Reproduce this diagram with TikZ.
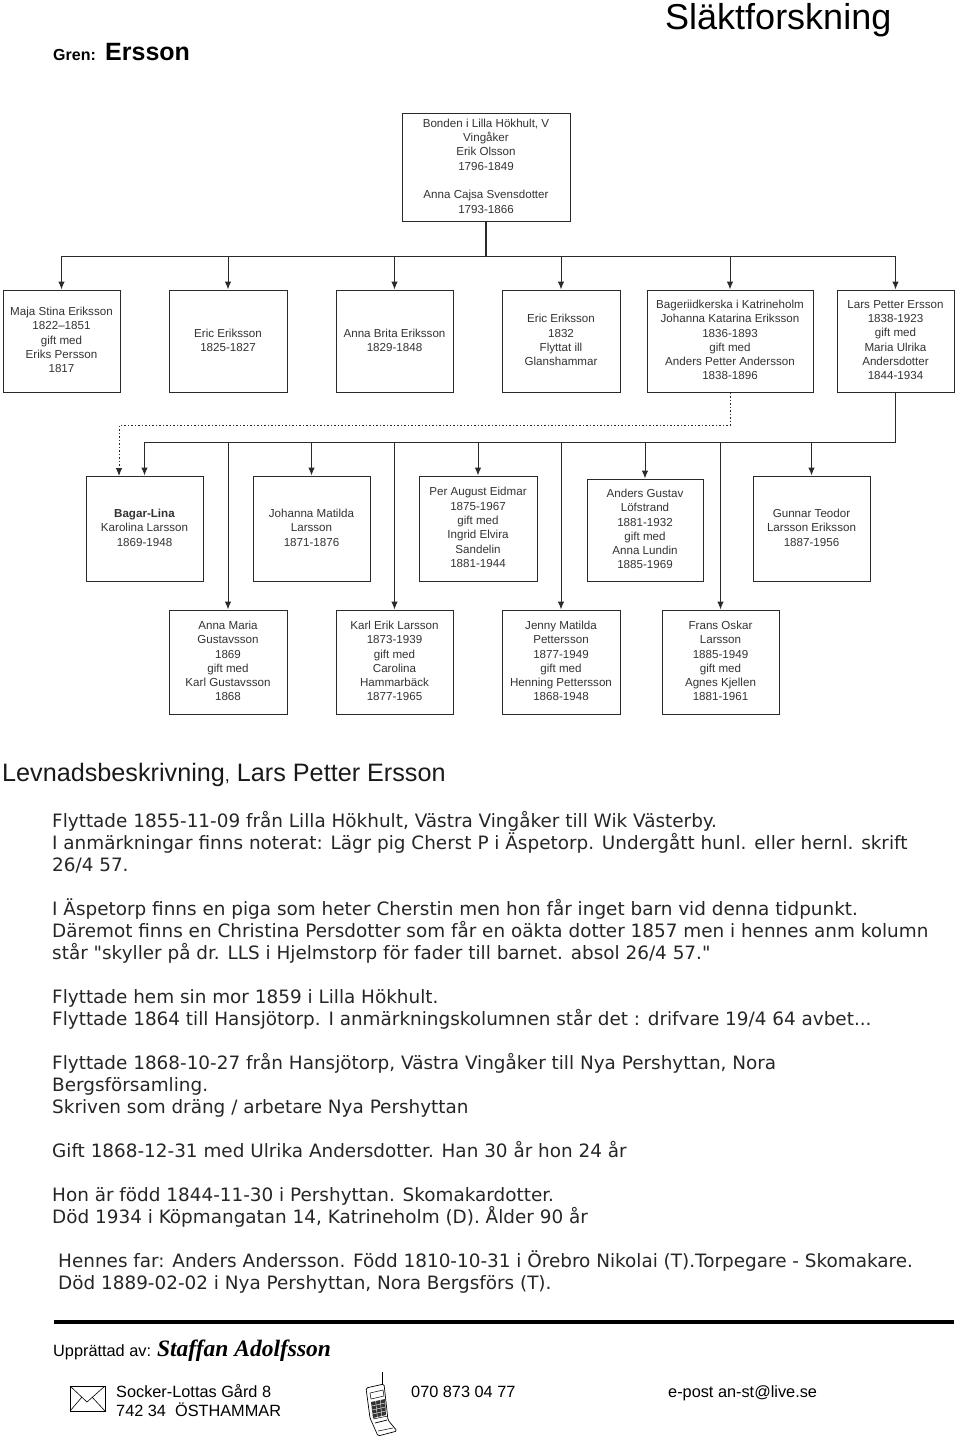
\documentclass[tikz,border=0pt]{standalone}
\usepackage{fontspec}
\usepackage{xcolor}
\setmainfont{Liberation Sans}
\newfontfamily\bodyfont{DejaVu Sans}
\newfontfamily\signfont{Liberation Serif}
\usetikzlibrary{arrows.meta,positioning,calc}
\definecolor{slink}{HTML}{2A2A2A}
\definecolor{stext}{HTML}{333333}
\tikzset{
  person/.style={rectangle,draw=slink,line width=1pt,fill=white,inner sep=0pt,
                 align=center,font=\fontsize{11.6}{14.3}\selectfont,text=stext},
  kin/.style={-{Latex[length=8pt,width=6.5pt]},line width=1pt,draw=slink},
  stem/.style={line width=1.2pt,draw=slink},
  stepkin/.style={-{Latex[length=8pt,width=6.5pt]},line width=0.9pt,draw=slink,dash pattern=on 1.5pt off 2pt},
  para/.style={anchor=north west,inner sep=0pt,align=left,
               execute at begin node={\rule{0pt}{19pt}},
               font=\bodyfont\fontsize{18.4}{22}\selectfont,text=black!85},
  foot/.style={anchor=base west,inner sep=0pt,font=\fontsize{16.3}{19}\selectfont},
}
% boxes are given as centre plus size, in pixels of the page
\newcommand{\personbox}[6]{%
  \node[person,minimum width=#4 pt,minimum height=#5 pt] (#1) at (#2,#3) {#6\\[-12.3pt]};}
\begin{document}
\begin{tikzpicture}[x=1pt,y=-1pt]
\useasboundingbox (0,0) rectangle (960,1437);
\node[anchor=base west,inner sep=0pt,font=\fontsize{36}{40}\selectfont] (title) at (665,30) {Släktforskning};
\node[anchor=base west,inner sep=0pt,font=\bfseries\fontsize{16}{19}\selectfont] (gren) at (53,61) {Gren:};
\node[anchor=base west,inner sep=0pt,font=\bfseries\fontsize{25}{28}\selectfont] (ersson) at (105,61) {Ersson};

% top of the tree
\personbox{root}{486}{167}{168}{108}{Bonden i Lilla Hökhult, V\\Vingåker\\Erik Olsson\\1796-1849\\[14.3pt]Anna Cajsa Svensdotter\\1793-1866}
% children
\personbox{maja}{61.5}{341}{117}{102}{Maja Stina Eriksson\\1822--1851\\gift med\\Eriks Persson\\1817}
\personbox{eric}{228}{341}{118}{102}{Eric Eriksson\\1825-1827}
\personbox{brita}{394.5}{341}{117}{102}{Anna Brita Eriksson\\1829-1848}
\personbox{glans}{561}{341}{118}{102}{Eric Eriksson\\1832\\Flyttat ill\\Glanshammar}
\personbox{johanna}{730}{341}{166}{102}{Bageriidkerska i Katrineholm\\Johanna Katarina Eriksson\\1836-1893\\gift med\\Anders Petter Andersson\\1838-1896}
\personbox{lars}{895.5}{341}{117}{102}{Lars Petter Ersson\\1838-1923\\gift med\\Maria Ulrika\\Andersdotter\\1844-1934}
% grandchildren, upper row
\personbox{lina}{144.5}{528.5}{117}{105}{\textbf{Bagar-Lina}\\Karolina Larsson\\1869-1948}
\personbox{matilda}{311.5}{528.5}{117}{105}{Johanna Matilda\\Larsson\\1871-1876}
\personbox{august}{478}{528.5}{118}{105}{Per August Eidmar\\1875-1967\\gift med\\Ingrid Elvira\\Sandelin\\1881-1944}
\personbox{gustav}{645}{530}{116}{102}{Anders Gustav\\Löfstrand\\1881-1932\\gift med\\Anna Lundin\\1885-1969}
\personbox{gunnar}{811.5}{528.5}{117}{105}{Gunnar Teodor\\Larsson Eriksson\\1887-1956}
% grandchildren, lower row
\personbox{maria}{228}{662}{118}{104}{Anna Maria\\Gustavsson\\1869\\gift med\\Karl Gustavsson\\1868}
\personbox{karl}{394.5}{662}{117}{104}{Karl Erik Larsson\\1873-1939\\gift med\\Carolina\\Hammarbäck\\1877-1965}
\personbox{jenny}{561}{662}{118}{104}{Jenny Matilda\\Pettersson\\1877-1949\\gift med\\Henning Pettersson\\1868-1948}
\personbox{frans}{720.5}{662}{117}{104}{Frans Oskar\\Larsson\\1885-1949\\gift med\\Agnes Kjellen\\1881-1961}

\coordinate (busa) at (root.south |- 0,256);
\coordinate (busb) at (lars.south |- 0,442);
\coordinate (dota) at (johanna.south |- 0,425);
\coordinate (dotb) at (119,425);
\coordinate (dotc) at (119,476);

\draw[stem] (root) -- (busa);
\foreach \kid in {maja,eric,brita,glans,johanna,lars}
  \draw[kin] (busa) -| (\kid.north);
\draw[stem] (lars) -- (busb);
\foreach \kid in {lina,maria,matilda,karl,august,jenny,gustav,frans,gunnar}
  \draw[kin] (busb) -| (\kid.north);
\draw[stepkin] (johanna.south) -- (dota) -- (dotb) -- (dotc);

\node[anchor=base west,inner sep=0pt,font=\fontsize{25.2}{28}\selectfont,text=black!90] (levnad) at (2,781)
  {Levnadsbeskrivning{\fontsize{18}{20}\selectfont,} Lars Petter Ersson};

\node[para] (parta) at (52,811) {Flyttade 1855-11-09 från Lilla Hökhult, Västra Vingåker till Wik Västerby.\\
I anmärkningar finns noterat: Lägr pig Cherst P i Äspetorp. Undergått hunl. eller hernl. skrift\\
26/4 57.};
\node[para] (partb) at (52,898) {I Äspetorp finns en piga som heter Cherstin men hon får inget barn vid denna tidpunkt.\\
Däremot finns en Christina Persdotter som får en oäkta dotter 1857 men i hennes anm kolumn\\
står "skyller på dr. LLS i Hjelmstorp för fader till barnet. absol 26/4 57."};
\node[para] (partc) at (52,989) {Flyttade hem sin mor 1859 i Lilla Hökhult.\\
Flyttade 1864 till Hansjötorp. I anmärkningskolumnen står det : drifvare 19/4 64 avbet...};
\node[para] (partd) at (52,1053) {Flyttade 1868-10-27 från Hansjötorp, Västra Vingåker till Nya Pershyttan, Nora\\
Bergsförsamling.\\
Skriven som dräng / arbetare Nya Pershyttan};
\node[para] (parte) at (52,1138) {Gift 1868-12-31 med Ulrika Andersdotter. Han 30 år hon 24 år};
\node[para] (partf) at (52,1187) {Hon är född 1844-11-30 i Pershyttan. Skomakardotter.\\
Död 1934 i Köpmangatan 14, Katrineholm (D). Ålder 90 år};
\node[para] (partg) at (58,1250) {Hennes far: Anders Andersson. Född 1810-10-31 i Örebro Nikolai (T).Torpegare - Skomakare.\\
Död 1889-02-02 i Nya Pershyttan, Nora Bergsförs (T).};

% footer
\draw[line width=4pt] (54,1322) -- (954,1322);
\node[foot] (made) at (53,1356) {Upprättad av: {\signfont\bfseries\itshape\fontsize{23.5}{24}\selectfont Staffan Adolfsson}};
\node[foot] (addr) at (116,1397) {Socker-Lottas Gård 8};
\node[foot] (post) at (116,1416) {742 34\ \ ÖSTHAMMAR};
\node[foot] (tel) at (411,1397) {070 873 04 77};
\node[foot] (mail) at (668,1397) {e-post an-st@live.se};
% envelope
\draw[line width=0.6pt] (70,1386) rectangle (105,1411);
\draw[line width=0.6pt] (70,1386) -- (87,1402) -- (105,1386) (70,1411) -- (82,1397) (105,1411) -- (92,1397);
% phone
\draw[line width=0.8pt] (382,1372) -- (382,1385);
\draw[line width=0.7pt,rounded corners=1.5pt,fill=white] (366,1388) -- (384,1384) -- (388,1420) -- (397,1431) -- (378,1436) -- (370,1418) -- cycle;
\draw[line width=0.5pt] (370,1393) -- (383,1390) -- (384,1396) -- (371,1399) -- cycle;
\fill[black!80] (371,1402) -- (385,1399) -- (386,1415) -- (373,1418) -- cycle;
\foreach \i in {1,2,3} \draw[white,line width=0.4pt] ($(371,1402)!\i/4!(373,1418)$) -- ($(385,1399)!\i/4!(386,1415)$);
\foreach \i in {1,2} \draw[white,line width=0.4pt] ($(371,1402)!\i/3!(385,1399)$) -- ($(373,1418)!\i/3!(386,1415)$);
\draw[line width=0.7pt] (375,1423) -- (387,1420);
\draw[line width=0.5pt] (373,1419) -- (388,1416);
\draw[line width=0.5pt] (378,1431) -- (393,1428);
\end{tikzpicture}
\end{document}
